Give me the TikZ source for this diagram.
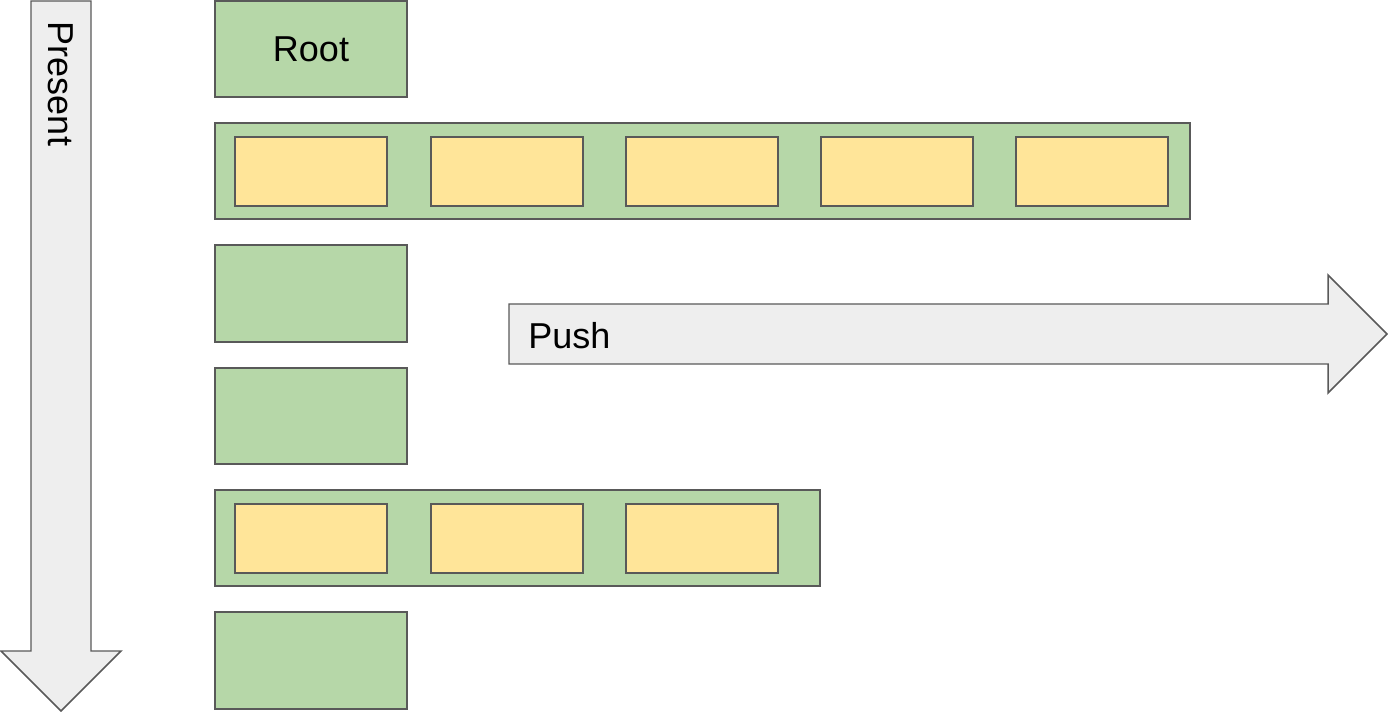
\documentclass[tikz,border=0pt]{standalone}
\usepackage{fontspec}
\setmainfont{Liberation Sans}
\definecolor{gfill}{HTML}{B6D7A8}
\definecolor{yfill}{HTML}{FFE599}
\definecolor{afill}{HTML}{EEEEEE}
\definecolor{edge}{HTML}{595959}
\begin{document}
\begin{tikzpicture}[x=0.75pt,y=-0.75pt,
  box/.style={draw=edge,line width=1.1pt,inner sep=0pt,outer sep=0pt},
  gbox/.style={box,fill=gfill},
  ybox/.style={box,fill=yfill},
  arr/.style={draw=edge,line width=1.1pt,fill=afill,line join=miter},
  lbl/.style={font=\fontsize{27}{30}\selectfont,inner sep=0pt}]
\useasboundingbox (0,0) rectangle (1388,712);
% Present arrow
\draw[arr] (31,1) -- (91,1) -- (91,651) -- (121,651) -- (61,711) -- (1,651) -- (31,651) -- cycle;
\node[lbl,rotate=-90] (present) at (61,84) {Present};
% Push arrow
\draw[arr] (509,304) -- (1328,304) -- (1328,275) -- (1387,334) -- (1328,393) -- (1328,364) -- (509,364) -- cycle;
\node[lbl,anchor=west] (push) at (528,336) {Push};
% green boxes
\node[gbox,minimum width=192*0.75pt,minimum height=96*0.75pt] (root) at (311,49) {};
\node[lbl] at (root.center) {Root};
\node[gbox,minimum width=975*0.75pt,minimum height=96*0.75pt] (row1) at (702.5,171) {};
\node[gbox,minimum width=192*0.75pt,minimum height=97*0.75pt] (b3) at (311,293.5) {};
\node[gbox,minimum width=192*0.75pt,minimum height=96*0.75pt] (b4) at (311,416) {};
\node[gbox,minimum width=605*0.75pt,minimum height=96*0.75pt] (row5) at (517.5,538) {};
\node[gbox,minimum width=192*0.75pt,minimum height=97*0.75pt] (b6) at (311,660.5) {};
% yellow boxes
\foreach \x [count=\i] in {311,507,702,897,1092}
  \node[ybox,minimum width=152*0.75pt,minimum height=69*0.75pt] (y1-\i) at (\x,171.5) {};
\foreach \x [count=\i] in {311,507,702}
  \node[ybox,minimum width=152*0.75pt,minimum height=69*0.75pt] (y5-\i) at (\x,538.5) {};
\end{tikzpicture}
\end{document}
